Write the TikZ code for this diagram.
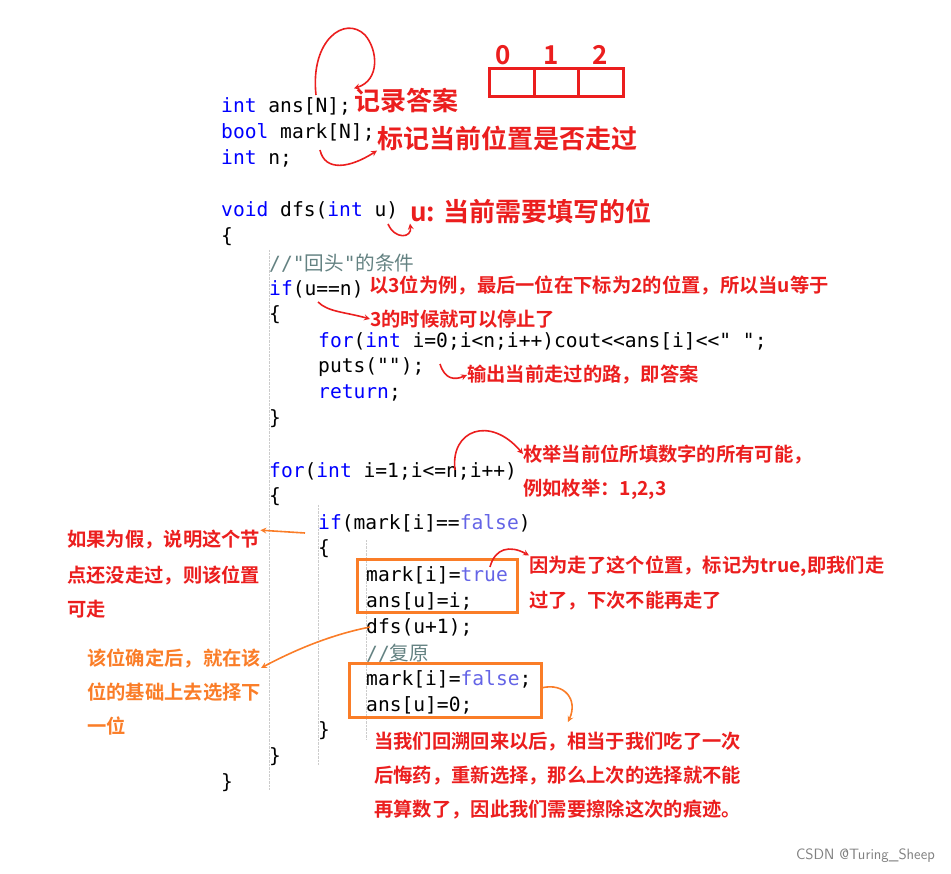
\documentclass[tikz,border=0pt]{standalone}
\usepackage{fontspec}
\setmonofont{DejaVu Sans Mono}
\newfontfamily\cjk{Noto Sans CJK SC}
\newfontfamily\cjkb{Noto Sans CJK SC Bold}
\usetikzlibrary{positioning}
\definecolor{kwblue}{RGB}{0,0,255}
\definecolor{tfblue}{RGB}{100,100,230}
\definecolor{cmgray}{RGB}{100,130,130}
\definecolor{annred}{RGB}{235,30,30}
\definecolor{annorange}{RGB}{250,125,40}
\newcommand{\kw}[1]{\textcolor{kwblue}{#1}}
\newcommand{\tf}[1]{\textcolor{tfblue}{#1}}
\newcommand{\cm}[1]{\textcolor{cmgray}{#1}}

\begin{document}
\begin{tikzpicture}[x=1pt,y=-1pt,>=stealth,
    code/.style={anchor=west,inner sep=0pt,font=\ttfamily\fontsize{19.6}{19.6}\selectfont},
    note/.style={anchor=west,inner sep=0pt,text=annred,font=\cjkb\fontsize{19.3}{19.3}\selectfont},
    bignote/.style={note,font=\cjkb\fontsize{26}{26}\selectfont},
    onote/.style={note,text=annorange},
    curl/.style={->,annred,line width=1.6pt},
    ocurl/.style={->,annorange,line width=1.6pt},
    obox/.style={draw=annorange,line width=3pt},
    guide/.style={gray!40,densely dotted}]
    \useasboundingbox (0,0) rectangle (951,874);
    % indent guides
    \draw[guide] (269,250) -- (269,790);
    \draw[guide] (318,505) -- (318,765);
    \draw[guide] (366,540) -- (366,740);
    % code
    \node[code] (c1) at (221,106) {\kw{int} ans[N];};
    \node[code] (c2) at (221,132) {\kw{bool} mark[N];};
    \node[code] (c3) at (221,158) {\kw{int} n;};
    \node[code] (c4) at (221,210) {\kw{void} dfs(\kw{int} u)};
    \node[code] (c5) at (221,237) {\{};
    \node[code] (c6) at (269,263) {\cm{//"{\cjk 回头}"{\cjk 的条件}}};
    \node[code] (c7) at (269,289) {\kw{if}(u==n)};
    \node[code] (c8) at (269,315) {\{};
    \node[code] (c9) at (318,341) {\kw{for}(\kw{int} i=0;i<n;i++)cout<<ans[i]<<" ";};
    \node[code] (c10) at (318,367) {puts("");};
    \node[code] (c11) at (318,393) {\kw{return};};
    \node[code] (c12) at (269,419) {\}};
    \node[code] (c13) at (269,471) {\kw{for}(\kw{int} i=1;i<=n;i++)};
    \node[code] (c14) at (269,497) {\{};
    \node[code] (c15) at (318,523) {\kw{if}(mark[i]==\tf{false})};
    \node[code] (c16) at (318,549) {\{};
    \node[code] (c17) at (366,575) {mark[i]=\tf{true}};
    \node[code] (c18) at (366,601) {ans[u]=i;};
    \node[code] (c19) at (366,627) {dfs(u+1);};
    \node[code] (c20) at (366,653) {\cm{//{\cjk 复原}}};
    \node[code] (c21) at (366,679) {mark[i]=\tf{false};};
    \node[code] (c22) at (366,705) {ans[u]=0;};
    \node[code] (c23) at (318,731) {\}};
    \node[code] (c24) at (269,757) {\}};
    \node[code] (c25) at (221,783) {\}};
    % boxes
    \draw[obox] (357,559) rectangle (517,612);
    \draw[obox] (349,663) rectangle (541,717);
    \draw[annred,line width=3pt] (489,69) rectangle (623,97)
        (534,69) -- (534,97) (578,69) -- (578,97);
    \foreach \d/\x in {0/503,1/551,2/600}
        \node[bignote,anchor=center] (d\d) at (\x,55) {\d};
    % notes
    \node[bignote] (n1) at (354,101) {记录答案};
    \node[bignote] (n2) at (377,138) {标记当前位置是否走过};
    \node[bignote] (n3) at (410,211) {u: 当前需要填写的位};
    \node[note] (n4) at (369,285) {以3位为例，最后一位在下标为2的位置，所以当u等于};
    \node[note] (n5) at (370,319) {3的时候就可以停止了};
    \node[note] (n6) at (467,375) {输出当前走过的路，即答案};
    \node[note] (n7) at (523,454) {枚举当前位所填数字的所有可能，};
    \node[note] (n8) at (523,489) {例如枚举：1,2,3};
    \node[note] (n9) at (67,540) {如果为假，说明这个节};
    \node[note] (n10) at (67,575) {点还没走过，则该位置};
    \node[note] (n11) at (67,609) {可走};
    \node[note] (n12) at (529,566) {因为走了这个位置，标记为true,即我们走};
    \node[note] (n13) at (529,601) {过了，下次不能再走了};
    \node[onote] (n14) at (87,658) {该位确定后，就在该};
    \node[onote] (n15) at (87,692) {位的基础上去选择下};
    \node[onote] (n16) at (87,726) {一位};
    \node[note] (n17) at (374,742) {当我们回溯回来以后，相当于我们吃了一次};
    \node[note] (n18) at (374,776) {后悔药，重新选择，那么上次的选择就不能};
    \node[note] (n19) at (374,810) {再算数了，因此我们需要擦除这次的痕迹。};
    \node[anchor=east,inner sep=0pt,text=gray,font=\sffamily\fontsize{15}{15}\selectfont] (wm) at (935,856) {CSDN @Turing\_Sheep};
    % curls
    \coordinate (a1) at (316,95);
    \draw[curl] (a1) .. controls (310,40) and (345,15) .. (365,35)
        .. controls (378,50) and (380,80) .. (n1.north west);
    \draw[curl] (320,150) .. controls (325,172) and (350,168) .. (n2.south west);
    \draw[curl] (388,224) .. controls (395,240) and (412,238) .. (n3.south west);
    \draw[curl] (318,302) .. controls (328,312) and (345,312) .. (n5.west);
    \draw[curl] (440,364) .. controls (445,380) and (455,380) .. (n6.west);
    \draw[curl] (455,470) .. controls (450,430) and (490,415) .. (n7.west);
    \draw[curl] (490,567) .. controls (495,548) and (510,545) .. (n12.north west);
    \draw[ocurl] (305,533) -- (n9.north east);
    \draw[ocurl] (370,627) .. controls (330,635) and (295,650) .. (n14.south east);
    \draw[ocurl] (541,688) .. controls (565,682) and (578,700) .. (568,722);
\end{tikzpicture}
\end{document}
